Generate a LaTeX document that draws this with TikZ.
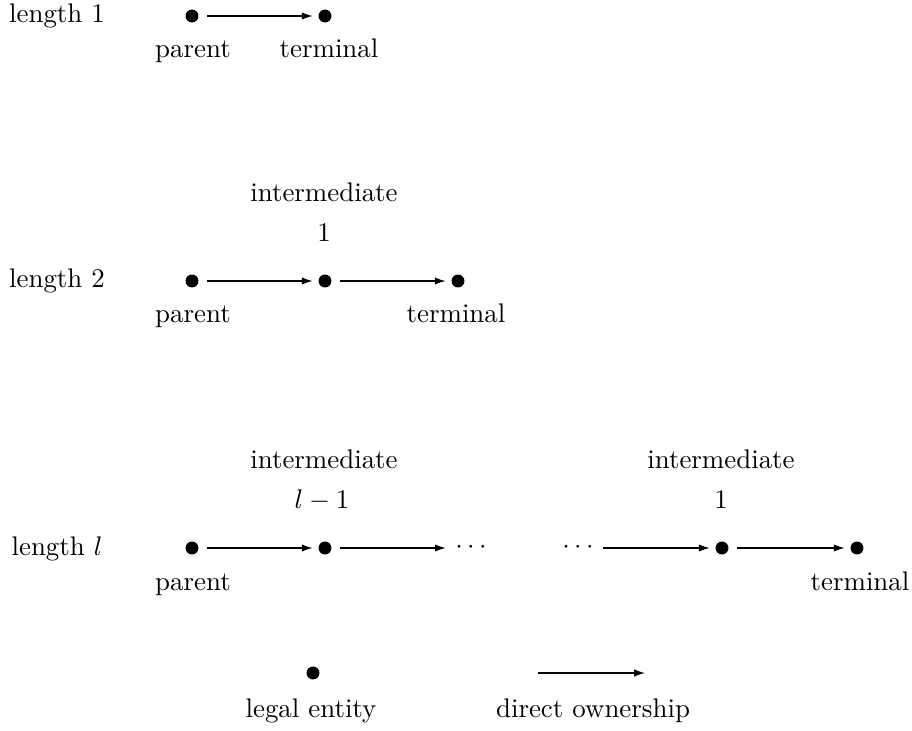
\documentclass[tikz,border=0pt]{standalone}
\usetikzlibrary{arrows.meta}
\begin{document}
\begin{tikzpicture}[x=0.3717pt,y=-0.3717pt,
  ent/.style={circle,fill=black,inner sep=0pt,minimum size=4.8pt},
  lbl/.style={anchor=base,inner sep=0pt},
  own/.style={-{Latex[length=4pt,width=2.7pt]},line width=0.45pt,shorten <=3.1pt,shorten >=2pt},
  ell/.style={inner sep=3.33pt}]
\useasboundingbox (0,0) rectangle (912,731);
% row 1
\node[lbl] (r1) at (57,23) {length 1};
\node[ent] (a1) at (192,16) {};
\node[ent] (a2) at (325,16) {};
\draw[own] (a1) -- (a2);
\node[lbl] (a1p) at (193,58) {parent};
\node[lbl] (a2t) at (329,58) {terminal};
% row 2
\node[lbl] (r2) at (57,288) {length 2};
\node[ent] (b1) at (192,281) {};
\node[ent] (b2) at (325,281) {};
\node[ent] (b3) at (458,281) {};
\draw[own] (b1) -- (b2);
\draw[own] (b2) -- (b3);
\node[lbl] (b2i) at (324,202) {intermediate};
\node[lbl] (b2n) at (324,242) {1};
\node[lbl] (b1p) at (193,323) {parent};
\node[lbl] (b3t) at (456,323) {terminal};
% row 3
\node[lbl] (r3) at (57,555) {length $l$};
\node[ent] (c1) at (192,548) {};
\node[ent] (c2) at (325,548) {};
\node[ell] (e1) at (471,548) {$\cdots$};
\node[ell] (e2) at (578,548) {$\cdots$};
\node[ent] (c3) at (722,548) {};
\node[ent] (c4) at (857,548) {};
\draw[own] (c1) -- (c2);
\draw[own,shorten <=3.1pt,shorten >=0pt] (c2) -- (e1);
\draw[own,shorten <=0pt] (e2) -- (c3);
\draw[own] (c3) -- (c4);
\node[lbl] (c2i) at (324,468) {intermediate};
\node[lbl] (c2n) at (322,508) {$l-1$};
\node[lbl] (c3i) at (721,468) {intermediate};
\node[lbl] (c3n) at (721,508) {1};
\node[lbl] (c1p) at (193,590) {parent};
\node[lbl] (c4t) at (860,590) {terminal};
% legend
\node[ent] (le) at (313,673) {};
\node[lbl] (let) at (311,717) {legal entity};
\coordinate (oa) at (538,673);
\coordinate (ob) at (645,673);
\draw[own,shorten <=0pt,shorten >=0pt] (oa) -- (ob);
\node[lbl] (ot) at (593,717) {direct ownership};
\end{tikzpicture}
\end{document}
